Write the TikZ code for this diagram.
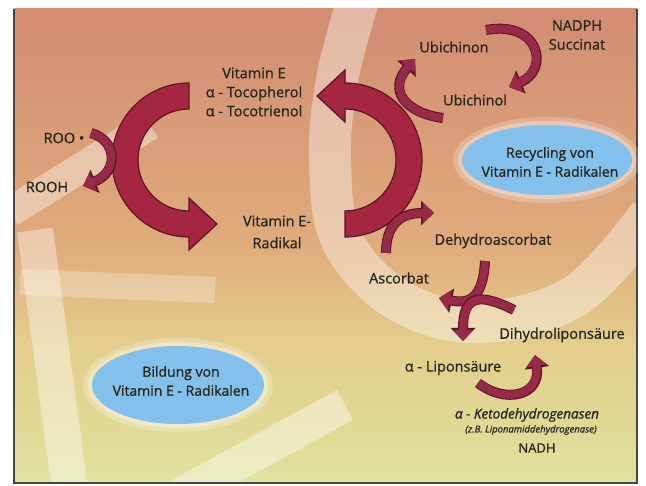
\documentclass[tikz,border=0pt]{standalone}
\usepackage{fontspec}
\setmainfont{Open Sans}[FakeBold=0.9]
\usetikzlibrary{arrows.meta}
\definecolor{bgtop}{RGB}{210,140,114}
\definecolor{bgmid}{RGB}{224,172,124}
\definecolor{bglow}{RGB}{228,204,140}
\definecolor{bgbot}{RGB}{224,226,158}
\definecolor{arrowred}{RGB}{164,38,64}
\definecolor{arrowred2}{RGB}{150,42,72}
\definecolor{arrowdark}{RGB}{92,22,40}
\definecolor{ellblue}{RGB}{132,192,236}
\definecolor{txt}{RGB}{38,38,28}
\definecolor{framecol}{RGB}{70,70,70}
\pgfdeclareverticalshading{bgshade}{100bp}{color(0bp)=(bgbot); color(25bp)=(bgbot); color(40bp)=(bglow); color(50bp)=(bgmid); color(75bp)=(bgtop); color(100bp)=(bgtop)}
\tikzset{
  lbl/.style={text=txt, font=\fontsize{14.5}{19}\selectfont, align=center, inner sep=0pt},
  elltxt/.style={text=txt, font=\fontsize{14}{19}\selectfont, align=center, inner sep=0pt},
  bigarrow/.style={fill=arrowred, draw=arrowdark, line width=1.2pt, line join=miter},
  smallarrow/.style={draw=arrowred2, line width=8pt, -{Triangle[width=20pt,length=11pt]},
     preaction={draw=arrowdark, line width=10pt, -{Triangle[width=24pt,length=13pt]}}},
  whiteband/.style={draw=white, opacity=0.38, line cap=butt},
}
\begin{document}
\begin{tikzpicture}[x=1pt,y=-1pt]
\useasboundingbox (0,0) rectangle (646,486);
\fill[white] (0,0) rectangle (646,486);
% background
\begin{scope}
\clip (14,9) rectangle (637,483);
\shade[shading=bgshade] (14,9) rectangle (637,483);
% big C band on the right
\draw[whiteband, line width=42pt] plot[smooth, tension=0.6] coordinates {(358,0) (337,80) (330,160) (342,240) (398,300) (478,322) (575,296) (650,215)};
% left E-like bands
\draw[whiteband, line width=30pt] (10,212) -- (150,125);
\draw[whiteband, line width=36pt] (35,230) -- (70,490);
\draw[whiteband, opacity=0.25, line width=26pt] (20,282) -- (215,290);
\draw[whiteband, line width=34pt] (180,495) -- (345,405);
\end{scope}
\draw[framecol, line width=1.5pt] (14,9) -- (14,483) -- (637,483) -- (637,9);

% ellipses
\coordinate (recC) at (547,160);
\coordinate (bilC) at (178,385);
\foreach \c/\rx/\ry in {recC/85/35, bilC/86/39}{
  \fill[white, opacity=0.22] (\c) ellipse[x radius=\rx+9, y radius=\ry+8];
  \fill[white, opacity=0.3] (\c) ellipse[x radius=\rx+4, y radius=\ry+4];
  \fill[ellblue] (\c) ellipse[x radius=\rx, y radius=\ry];
}
\node[elltxt] (rec) at (550,162) {Recycling von\\Vitamin E - Radikalen};
\node[elltxt] (bil) at (181,381) {Bildung von\\Vitamin E - Radikalen};

% big arrows
\coordinate (cL) at (189,160);
\coordinate (cR) at (345,160);
\draw[bigarrow] (189,83) arc[start angle=-90, end angle=-270, radius=77] -- (189,250) -- (217,224) -- (189,198) -- (189,211) arc[start angle=90, end angle=270, radius=51] -- cycle;
\draw[bigarrow] (345,237) arc[start angle=90, end angle=-90, radius=77] -- (345,70) -- (317,96) -- (345,122) -- (345,109) arc[start angle=-90, end angle=90, radius=51] -- cycle;

% labels
\node[lbl] (vite) at (254,92) {Vitamin E\\α - Tocopherol\\α - Tocotrienol};
\node[lbl] (roo) at (64,138) {ROO •};
\node[lbl] (rooh) at (47,187) {ROOH};
\node[lbl, font=\fontsize{14.5}{22}\selectfont] (virad) at (277,232) {Vitamin E-\\Radikal};
\node[lbl] (ubon) at (454,47) {Ubichinon};
\node[lbl] (ubol) at (475,100) {Ubichinol};
\node[lbl] (nadph) at (577,35) {NADPH\\Succinat};
\node[lbl] (dha) at (493,241) {Dehydroascorbat};
\node[lbl] (asc) at (399,278) {Ascorbat};
\node[lbl] (dhl) at (562,335) {Dihydroliponsäure};
\node[lbl] (lip) at (453,368) {α - Liponsäure};
\node[lbl, font=\itshape\fontsize{13.5}{16}\selectfont] (keto) at (527,415) {α - Ketodehydrogenasen};
\node[lbl, font=\itshape\fontsize{9.5}{12}\selectfont] (lipam) at (531,430) {(z.B. Liponamiddehydrogenase)};
\node[lbl, font=\fontsize{13}{16}\selectfont] (nadh) at (537,448) {NADH};

% small arrows
\coordinate (s1a) at (91,133);  \coordinate (s1b) at (83,186);
\draw[smallarrow] (s1a) .. controls (117,140) and (119,172) .. (s1b);
\coordinate (s2a) at (443,118); \coordinate (s2b) at (415,59);
\draw[smallarrow] (s2a) .. controls (405,113) and (388,90) .. (s2b);
\coordinate (s3a) at (386,253); \coordinate (s3b) at (434,213);
\draw[smallarrow] (s3a) .. controls (386,225) and (400,213) .. (s3b);
\coordinate (s4a) at (486,30);  \coordinate (s4b) at (509,87);
\draw[smallarrow] (s4a) .. controls (540,20) and (550,70) .. (s4b);
\coordinate (s5a) at (485,261); \coordinate (s5b) at (439,298);
\draw[smallarrow] (s5a) .. controls (483,300) and (468,304) .. (s5b);
\coordinate (s6a) at (514,310); \coordinate (s6b) at (463,341);
\draw[smallarrow] (s6a) .. controls (478,292) and (463,296) .. (s6b);
\coordinate (s7a) at (478,383); \coordinate (s7b) at (535,355);
\draw[smallarrow] (s7a) .. controls (505,404) and (541,396) .. (s7b);
\end{tikzpicture}
\end{document}
